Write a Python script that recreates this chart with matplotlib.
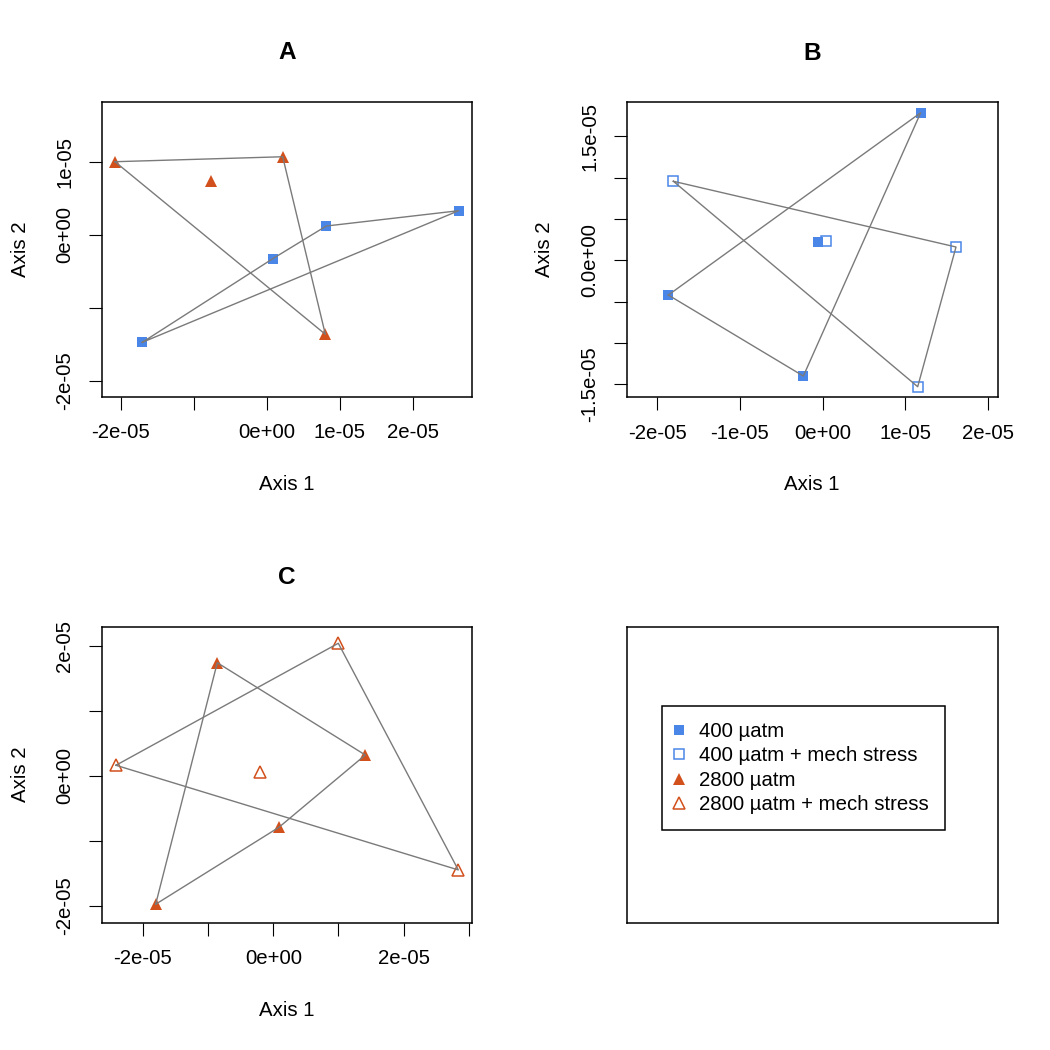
import matplotlib
matplotlib.use('Agg')
import matplotlib.pyplot as plt
from matplotlib.lines import Line2D

plt.rcParams['font.family'] = ['Liberation Sans', 'DejaVu Sans']

# ---------------- data ----------------
# Panel A
A_400_x = [-1.704e-5, 0.082e-5, 0.816e-5, 2.63e-5]
A_400_y = [-1.474e-5, -0.329e-5, 0.119e-5, 0.329e-5]
A_2800_x = [-2.078e-5, 0.219e-5, -0.767e-5, 0.803e-5]
A_2800_y = [1.0e-5, 1.068e-5, 0.74e-5, -1.364e-5]
# Panel B
B_400_x = [1.184e-5, -1.866e-5, -0.234e-5, -0.053e-5]
B_400_y = [1.785e-5, -0.42e-5, -1.40e-5, 0.218e-5]
B_400m_x = [-1.805e-5, 1.611e-5, 1.148e-5, 0.04e-5]
B_400m_y = [0.956e-5, 0.161e-5, -1.529e-5, 0.23e-5]
# Panel C
C_2800_x = [-0.859e-5, 1.411e-5, 0.087e-5, -1.804e-5]
C_2800_y = [1.738e-5, 0.318e-5, -0.794e-5, -1.978e-5]
C_2800m_x = [0.997e-5, -2.413e-5, 2.837e-5, -0.199e-5]
C_2800m_y = [2.037e-5, 0.16e-5, -1.45e-5, 0.052e-5]

legend_labels = ['400 µatm', '400 µatm + mech stress', '2800 µatm', '2800 µatm + mech stress']
titles = ['A', 'B', 'C']

A_xticks = [-2e-5, -1e-5, 0, 1e-5, 2e-5]
A_xlabels = ['-2e-05', '', '0e+00', '1e-05', '2e-05']
A_yticks = [-2e-5, -1e-5, 0, 1e-5]
A_ylabels = ['-2e-05', '', '0e+00', '1e-05']
B_xticks = [-2e-5, -1e-5, 0, 1e-5, 2e-5]
B_xlabels = ['-2e-05', '-1e-05', '0e+00', '1e-05', '2e-05']
B_yticks = [-1.5e-5, -1.0e-5, -0.5e-5, 0, 0.5e-5, 1.0e-5, 1.5e-5]
B_ylabels = ['-1.5e-05', '', '', '0.0e+00', '', '', '1.5e-05']
C_xticks = [-2e-5, -1e-5, 0, 1e-5, 2e-5, 3e-5]
C_xlabels = ['-2e-05', '', '0e+00', '', '2e-05', '']
C_yticks = [-2e-5, -1e-5, 0, 1e-5, 2e-5]
C_ylabels = ['-2e-05', '', '0e+00', '', '2e-05']

# ---------------- styles ----------------
BLUE = '#4A86E8'
ORANGE = '#D2501C'
HULL = '#7A7A7A'
FS = 14.7

st_400 = dict(ls='none', marker='s', ms=6.8, mfc=BLUE, mec=BLUE, mew=0)
st_400m = dict(ls='none', marker='s', ms=6.5, mfc='none', mec=BLUE, mew=1.1)
st_2800 = dict(ls='none', marker='^', ms=8.0, mfc=ORANGE, mec=ORANGE, mew=0)
st_2800m = dict(ls='none', marker='^', ms=8.3, mfc='none', mec=ORANGE, mew=1.1)


def hull(xs, ys):
    pts = sorted(zip(xs, ys))

    def cross(o, a, b):
        return (a[0] - o[0]) * (b[1] - o[1]) - (a[1] - o[1]) * (b[0] - o[0])

    lower, upper = [], []
    for p in pts:
        while len(lower) >= 2 and cross(lower[-2], lower[-1], p) <= 0:
            lower.pop()
        lower.append(p)
    for p in reversed(pts):
        while len(upper) >= 2 and cross(upper[-2], upper[-1], p) <= 0:
            upper.pop()
        upper.append(p)
    h = lower[:-1] + upper[:-1]
    h.append(h[0])
    return [p[0] for p in h], [p[1] for p in h]


W = H = 1050.0
fig = plt.figure(figsize=(10.5, 10.5), dpi=100)


def make_ax(l, t, r, b):
    return fig.add_axes([l / W, 1 - b / H, (r - l) / W, (b - t) / H])


def style_ax(ax, xlim, ylim, xt, xl, yt, yl, title, hpx, wpx):
    ax.set_xlim(*xlim)
    ax.set_ylim(*ylim)
    ax.set_xticks(xt)
    ax.set_xticklabels(xl)
    ax.set_yticks(yt)
    ax.set_yticklabels(yl, rotation=90, va='center')
    ax.tick_params(direction='out', length=9.4, width=0.8, labelsize=FS, pad=9.5)
    ax.tick_params(axis='y', pad=10.5)
    for s in ax.spines.values():
        s.set_linewidth(1.1)
    ax.set_xlabel('Axis 1', fontsize=FS)
    ax.set_ylabel('Axis 2', fontsize=FS)
    ax.xaxis.label.set_va('center')
    ax.yaxis.label.set_va('center')
    ax.xaxis.set_label_coords(0.5, -87.5 / hpx)
    ax.yaxis.set_label_coords(-82 / wpx, 0.5)
    ax.set_title(title, fontsize=17.6, fontweight='bold', y=1 + 49 / hpx, va='center', pad=0)


def draw_group(ax, xs, ys, st):
    ax.plot(xs, ys, zorder=2, **st)
    hx, hy = hull(xs, ys)
    ax.plot(hx, hy, color=HULL, lw=1.0, zorder=3)


# Panel A
axA = make_ax(102, 102, 472, 397)
draw_group(axA, A_400_x, A_400_y, st_400)
draw_group(axA, A_2800_x, A_2800_y, st_2800)
style_ax(axA, (-2.256e-5, 2.812e-5), (-2.223e-5, 1.818e-5),
         A_xticks, A_xlabels, A_yticks, A_ylabels, titles[0], 295, 370)

# Panel B
axB = make_ax(626.7, 102, 997.7, 397.3)
draw_group(axB, B_400_x, B_400_y, st_400)
draw_group(axB, B_400m_x, B_400m_y, st_400m)
style_ax(axB, (-2.369e-5, 2.115e-5), (-1.657e-5, 1.915e-5),
         B_xticks, B_xlabels, B_yticks, B_ylabels, titles[1], 295.3, 371)

# Panel C
axC = make_ax(102, 626.7, 472.3, 922.7)
draw_group(axC, C_2800_x, C_2800_y, st_2800)
draw_group(axC, C_2800m_x, C_2800m_y, st_2800m)
style_ax(axC, (-2.627e-5, 3.052e-5), (-2.262e-5, 2.292e-5),
         C_xticks, C_xlabels, C_yticks, C_ylabels, titles[2], 296, 370.3)

# Panel D: legend box
axD = make_ax(626.7, 626.7, 997.7, 922.7)
axD.set_xticks([])
axD.set_yticks([])
for s in axD.spines.values():
    s.set_linewidth(1.1)

handles = [Line2D([], [], **st_400), Line2D([], [], **st_400m),
           Line2D([], [], **st_2800), Line2D([], [], **st_2800m)]
leg = axD.legend(handles, legend_labels, loc='upper left',
                 bbox_to_anchor=(662 / W, 1 - 706 / H), bbox_transform=fig.transFigure,
                 borderaxespad=0, fancybox=False, framealpha=1, edgecolor='black',
                 fontsize=FS, handlelength=0.1, handletextpad=0.95, borderpad=0.78,
                 labelspacing=0.27)
leg.get_frame().set_linewidth(1.1)

fig.savefig('out.png', dpi=100, facecolor='white')
